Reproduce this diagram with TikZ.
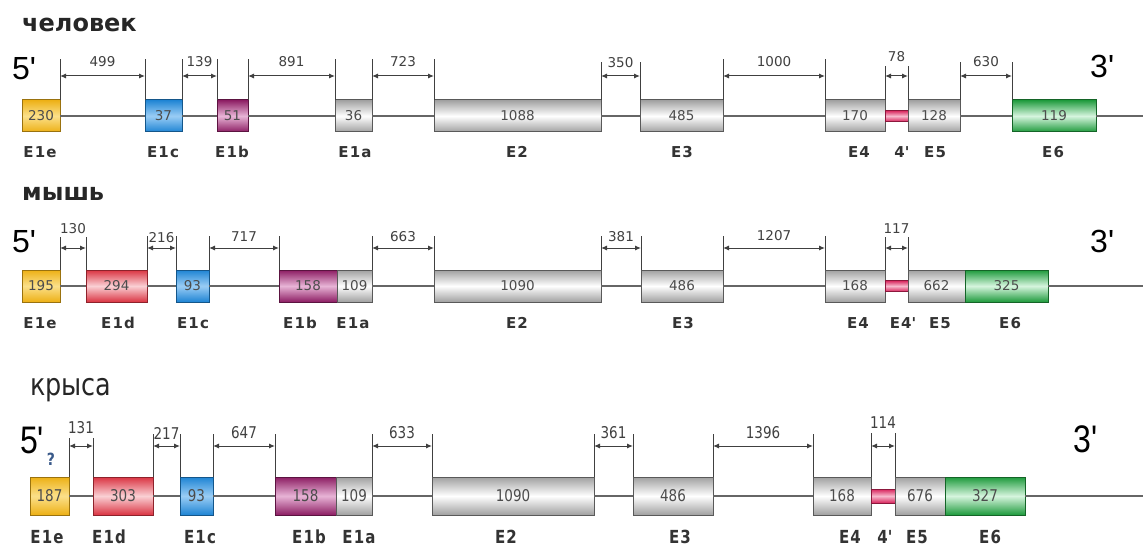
\documentclass[tikz,border=0pt]{standalone}
\usepackage{fontspec}
\setmainfont{Liberation Sans}
\newfontfamily\dv{DejaVu Sans}
\newfontfamily\dvb{DejaVu Sans Bold}
\newfontfamily\dvbs[LetterSpace=8]{DejaVu Sans Bold}
\usetikzlibrary{arrows.meta}
\definecolor{cyel}{HTML}{EDB015}\definecolor{cyelm}{HTML}{FBE08A}
\definecolor{cblu}{HTML}{1E84D4}\definecolor{cblum}{HTML}{9ACDF5}
\definecolor{cpur}{HTML}{8C1D63}\definecolor{cpurm}{HTML}{E8B4D6}
\definecolor{cred}{HTML}{DA3442}\definecolor{credm}{HTML}{FAD0D4}
\definecolor{cgrn}{HTML}{1E9A3C}\definecolor{cgrnm}{HTML}{D6F5DE}
\definecolor{cgry}{HTML}{A0A0A0}
\definecolor{cpnk}{HTML}{D8245C}\definecolor{cpnkm}{HTML}{F7B8CC}
\definecolor{cq}{HTML}{3A5A8A}
\tikzset{
 intron/.style={line width=1.2pt, draw=black!60},
 tickln/.style={line width=1pt, draw=black!75},
 dimarr/.style={line width=1pt, draw=black!75, {Latex[length=6pt,width=5pt]}-{Latex[length=6pt,width=5pt]}},
 dimlab/.style={font=\dv\fontsize{13.5}{14}\selectfont, text=black!75, inner sep=0pt},
 exlab/.style={font=\dvbs\fontsize{15}{15}\selectfont, text=black!80, anchor=base, inner sep=0pt},
 title/.style={anchor=base west, inner sep=0pt, text=black!85},
 prime/.style={anchor=base west, inner sep=0pt, font=\fontsize{32}{32}\selectfont},
 exon/.style={inner sep=0pt, outer sep=0pt, line width=1pt, font=\dv\fontsize{13.5}{14}\selectfont, text=black!70},
 ex-gry/.style={exon, draw=black!65, top color=cgry, bottom color=cgry, middle color=white},
 ex-yel/.style={exon, draw=cyel!65!black, top color=cyel, bottom color=cyel, middle color=cyelm},
 ex-blu/.style={exon, draw=cblu!65!black, top color=cblu, bottom color=cblu, middle color=cblum},
 ex-pur/.style={exon, draw=cpur!65!black, top color=cpur, bottom color=cpur, middle color=cpurm},
 ex-red/.style={exon, draw=cred!65!black, top color=cred, bottom color=cred, middle color=credm},
 ex-grn/.style={exon, draw=cgrn!65!black, top color=cgrn, bottom color=cgrn, middle color=cgrnm},
 ex-pnk/.style={exon, draw=cpnk!65!black, top color=cpnk, bottom color=cpnk, middle color=cpnkm},
}
\newcommand\rtA[1]{#1}
\newcommand\rtB[1]{\scalebox{1}[1.2]{#1}}
\let\rt\rtA
\newcommand\ex[5]{\node[#4,minimum width={(#3-#2)*1pt},minimum height=\rh pt,anchor=west] (#1) at (#2,\ry) {\rt{#5}};}
\newcommand\dm[6]{%
 \draw[tickln] (#2) -- (#2 |- 0,#5);
 \draw[tickln] (#3) -- (#3 |- 0,#5);
 \draw[dimarr] (#2 |- 0,\ay) -- (#3 |- 0,\ay);
 \path (#2 |- 0,#6) -- (#3 |- 0,#6) node[dimlab,midway] (#1) {\rt{#4}};}
\begin{document}
\begin{tikzpicture}[x=1pt,y=-1pt]
\fill[white] (0,0) rectangle (1143,548);
\useasboundingbox (0,0) rectangle (1143,548);
% ---------------- human
\node[title, font=\dvb\fontsize{24}{24}\selectfont] (tA) at (22,32) {человек};
\node[prime] (p5A) at (12,80) {5\textquotesingle};
\node[prime] (p3A) at (1090,78) {3\textquotesingle};
\def\ry{116}\def\rh{32}\def\ay{76}
\ex{a1e}{22}{60}{ex-yel}{230}
\ex{a1c}{145}{182}{ex-blu}{37}
\ex{a1b}{217}{248}{ex-pur}{51}
\ex{a1a}{335}{372}{ex-gry}{36}
\ex{a2}{434}{601}{ex-gry}{1088}
\ex{a3}{640}{723}{ex-gry}{485}
\ex{a4}{825}{885}{ex-gry}{170}
\node[ex-pnk, minimum width=23pt, minimum height=11pt, anchor=west] (a4p) at (a4.east) {};
\ex{a5}{908}{960}{ex-gry}{128}
\ex{a6}{1012}{1096}{ex-grn}{119}
\coordinate (aend) at (1143,\ry);
\draw[intron] (a1e) -- (a1c);
\draw[intron] (a1c) -- (a1b);
\draw[intron] (a1b) -- (a1a);
\draw[intron] (a1a) -- (a2);
\draw[intron] (a2) -- (a3);
\draw[intron] (a3) -- (a4);
\draw[intron] (a5) -- (a6);
\draw[intron] (a6) -- (aend);
\dm{da1}{a1e.north east}{a1c.north west}{499}{59}{62}
\dm{da2}{a1c.north east}{a1b.north west}{139}{59}{62}
\dm{da3}{a1b.north east}{a1a.north west}{891}{59}{62}
\dm{da4}{a1a.north east}{a2.north west}{723}{59}{62}
\dm{da5}{a2.north east}{a3.north west}{350}{62}{63}
\dm{da6}{a3.north east}{a4.north west}{1000}{59}{62}
\dm{da7}{a4.north east}{a5.north west}{78}{66}{57}
\dm{da8}{a5.north east}{a6.north west}{630}{62}{62}
\node[exlab] (la1e) at (40,158) {E1e};
\node[exlab] (la1c) at (163,158) {E1c};
\node[exlab] (la1b) at (232,158) {E1b};
\node[exlab] (la1a) at (355,158) {E1a};
\node[exlab] (la2) at (517,158) {E2};
\node[exlab] (la3) at (682,158) {E3};
\node[exlab] (la4) at (859,158) {E4};
\node[exlab] (la4p) at (902,158) {4\textquotesingle};
\node[exlab] (la5) at (935,158) {E5};
\node[exlab] (la6) at (1053,158) {E6};
% ---------------- mouse
\node[title, font=\dvb\fontsize{24}{24}\selectfont] (tB) at (22,201) {мышь};
\node[prime] (p5B) at (12,252) {5\textquotesingle};
\node[prime] (p3B) at (1090,252) {3\textquotesingle};
\def\ry{286}\def\rh{32}\def\ay{248}
\ex{b1e}{22}{60}{ex-yel}{195}
\ex{b1d}{86}{147}{ex-red}{294}
\ex{b1c}{176}{209}{ex-blu}{93}
\ex{b1b}{279}{337}{ex-pur}{158}
\ex{b1a}{337}{372}{ex-gry}{109}
\ex{b2}{434}{601}{ex-gry}{1090}
\ex{b3}{641}{723}{ex-gry}{486}
\ex{b4}{825}{885}{ex-gry}{168}
\node[ex-pnk, minimum width=23pt, minimum height=11pt, anchor=west] (b4p) at (b4.east) {};
\ex{b5}{908}{965}{ex-gry}{662}
\ex{b6}{965}{1048}{ex-grn}{325}
\coordinate (bend) at (1143,\ry);
\draw[intron] (b1e) -- (b1d);
\draw[intron] (b1d) -- (b1c);
\draw[intron] (b1c) -- (b1b);
\draw[intron] (b1a) -- (b2);
\draw[intron] (b2) -- (b3);
\draw[intron] (b3) -- (b4);
\draw[intron] (b6) -- (bend);
\dm{db1}{b1e.north east}{b1d.north west}{130}{237}{229}
\dm{db2}{b1d.north east}{b1c.north west}{216}{236}{238}
\dm{db3}{b1c.north east}{b1b.north west}{717}{236}{237}
\dm{db4}{b1a.north east}{b2.north west}{663}{236}{237}
\dm{db5}{b2.north east}{b3.north west}{381}{236}{237}
\dm{db6}{b3.north east}{b4.north west}{1207}{236}{236}
\dm{db7}{b4.north east}{b5.north west}{117}{237}{229}
\node[exlab] (lb1e) at (40,328) {E1e};
\node[exlab] (lb1d) at (118,328) {E1d};
\node[exlab] (lb1c) at (193,328) {E1c};
\node[exlab] (lb1b) at (300,328) {E1b};
\node[exlab] (lb1a) at (353,328) {E1a};
\node[exlab] (lb2) at (517,328) {E2};
\node[exlab] (lb3) at (683,328) {E3};
\node[exlab] (lb4) at (858,328) {E4};
\node[exlab] (lb4p) at (903,328) {E4\textquotesingle};
\node[exlab] (lb5) at (940,328) {E5};
\node[exlab] (lb6) at (1010,328) {E6};
% ---------------- rat
\let\rt\rtB
\node[title, font=\dv\fontsize{25.5}{26}\selectfont] (tC) at (30,395) {\rt{крыса}};
\node[prime] (p5C) at (20,453) {\rt{5\textquotesingle}};
\node[font=\dvb\fontsize{14}{14}\selectfont, text=cq, inner sep=0pt] (qC) at (51,459) {\rt{?}};
\node[prime] (p3C) at (1073,452) {\rt{3\textquotesingle}};
\def\ry{496}\def\rh{38}\def\ay{446}
\ex{c1e}{30}{69}{ex-yel}{187}
\ex{c1d}{93}{153}{ex-red}{303}
\ex{c1c}{180}{213}{ex-blu}{93}
\ex{c1b}{275}{336}{ex-pur}{158}
\ex{c1a}{336}{372}{ex-gry}{109}
\ex{c2}{432}{594}{ex-gry}{1090}
\ex{c3}{633}{713}{ex-gry}{486}
\ex{c4}{813}{871}{ex-gry}{168}
\node[ex-pnk, minimum width=24pt, minimum height=14pt, anchor=west] (c4p) at (c4.east) {};
\ex{c5}{895}{945}{ex-gry}{676}
\ex{c6}{945}{1025}{ex-grn}{327}
\coordinate (cend) at (1143,\ry);
\draw[intron] (c1e) -- (c1d);
\draw[intron] (c1d) -- (c1c);
\draw[intron] (c1c) -- (c1b);
\draw[intron] (c1a) -- (c2);
\draw[intron] (c2) -- (c3);
\draw[intron] (c3) -- (c4);
\draw[intron] (c6) -- (cend);
\dm{dc1}{c1e.north east}{c1d.north west}{131}{438}{428}
\dm{dc2}{c1d.north east}{c1c.north west}{217}{434}{433}
\dm{dc3}{c1c.north east}{c1b.north west}{647}{434}{433}
\dm{dc4}{c1a.north east}{c2.north west}{633}{434}{433}
\dm{dc5}{c2.north east}{c3.north west}{361}{434}{433}
\dm{dc6}{c3.north east}{c4.north west}{1396}{434}{433}
\dm{dc7}{c4.north east}{c5.north west}{114}{433}{423}
\node[exlab] (lc1e) at (47,543) {\rt{E1e}};
\node[exlab] (lc1d) at (109,543) {\rt{E1d}};
\node[exlab] (lc1c) at (200,543) {\rt{E1c}};
\node[exlab] (lc1b) at (309,543) {\rt{E1b}};
\node[exlab] (lc1a) at (359,543) {\rt{E1a}};
\node[exlab] (lc2) at (506,543) {\rt{E2}};
\node[exlab] (lc3) at (680,543) {\rt{E3}};
\node[exlab] (lc4) at (850,543) {\rt{E4}};
\node[exlab] (lc4p) at (885,543) {\rt{4\textquotesingle}};
\node[exlab] (lc5) at (917,543) {\rt{E5}};
\node[exlab] (lc6) at (990,543) {\rt{E6}};
\end{tikzpicture}
\end{document}
